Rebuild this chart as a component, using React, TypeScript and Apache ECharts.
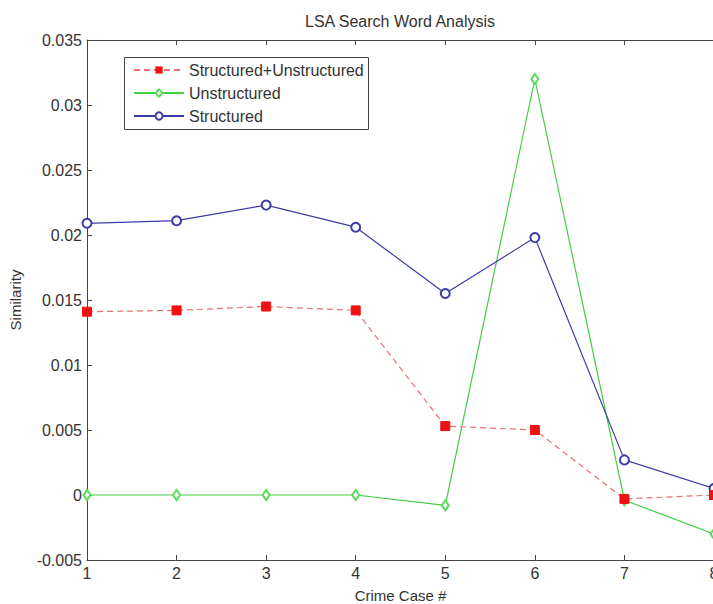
import React, { useEffect, useRef } from "react";
import * as echarts from "echarts";

const cases = [1, 2, 3, 4, 5, 6, 7, 8];
const combined = [0.0141, 0.0142, 0.0145, 0.0142, 0.0053, 0.005, -0.0003, 0.0];
const unstructured = [0.0, 0.0, 0.0, 0.0, -0.0008, 0.032, -0.0004, -0.003];
const structured = [0.0209, 0.0211, 0.0223, 0.0206, 0.0155, 0.0198, 0.0027, 0.0005];
const seriesNames = ["Structured+Unstructured", "Unstructured", "Structured"];

const FONT = "Liberation Sans, Arial, sans-serif";
const TXT = "#333333";

export default function App() {
  const ref = useRef<HTMLDivElement>(null);
  useEffect(() => {
    if (!ref.current) return;
    const chart = echarts.init(ref.current, undefined, { renderer: "svg" });
    const pair = (arr: number[]) => cases.map((c, i) => [c, arr[i]]);
    chart.setOption({
      animation: false,
      backgroundColor: "#ffffff",
      title: {
        text: "LSA Search Word Analysis",
        left: 400,
        top: 13,
        padding: 0,
        textAlign: "center",
        textStyle: { fontFamily: FONT, fontSize: 16, fontWeight: "normal", color: TXT },
      },
      grid: { left: 87, right: -1, top: 40, bottom: 44, outerBoundsMode: "none", containLabel: false },
      legend: {
        orient: "vertical",
        left: 133,
        top: 62,
        z: 20,
        itemWidth: 50,
        itemHeight: 9,
        itemGap: 7,
        padding: 0,
        data: seriesNames,
        textStyle: { fontFamily: FONT, fontSize: 16, lineHeight: 16, color: TXT, padding: [0, 0, 0, 0] },
      },
      graphic: [
        {
          type: "rect",
          shape: { x: 124.5, y: 57.5, width: 244, height: 72 },
          style: { fill: "#ffffff", stroke: "#444444", lineWidth: 1 },
          z: 1,
        },
      ],
      xAxis: [
        {
          type: "value",
          min: 1,
          max: 8,
          interval: 1,
          name: "Crime Case #",
          nameLocation: "middle",
          nameGap: 28,
          nameTextStyle: { fontFamily: FONT, fontSize: 15, color: TXT },
          axisLine: { show: true, onZero: false, lineStyle: { color: "#444", width: 1 } },
          axisTick: { show: true, inside: true, length: 5, lineStyle: { color: "#444" } },
          axisLabel: { fontFamily: FONT, fontSize: 16, color: TXT, margin: 5, showMaxLabel: true },
          splitLine: { show: false },
        },
        {
          type: "value",
          position: "top",
          min: 1,
          max: 8,
          interval: 1,
          axisLine: { show: true, onZero: false, lineStyle: { color: "#444", width: 1 } },
          axisTick: { show: true, inside: true, length: 5, lineStyle: { color: "#444" } },
          axisLabel: { show: false },
          splitLine: { show: false },
        },
      ],
      yAxis: [
        {
          type: "value",
          min: -0.005,
          max: 0.035,
          interval: 0.005,
          name: "Similarity",
          nameLocation: "middle",
          nameGap: 64,
          nameTextStyle: { fontFamily: FONT, fontSize: 15, color: TXT },
          axisLine: { show: true, onZero: false, lineStyle: { color: "#444", width: 1 } },
          axisTick: { show: true, inside: true, length: 5, lineStyle: { color: "#444" } },
          axisLabel: {
            fontFamily: FONT,
            fontSize: 16,
            color: TXT,
            margin: 5,
            formatter: (v: number) => String(parseFloat(v.toFixed(3))),
          },
          splitLine: { show: false },
        },
      ],
      series: [
        {
          name: seriesNames[0],
          type: "line",
          data: pair(combined),
          symbol: "rect",
          symbolSize: 9,
          z: 4,
          lineStyle: { color: "#e87070", width: 1.2, type: [6, 4] },
          itemStyle: { color: "#ee1111", borderColor: "#ee1111" },
        },
        {
          name: seriesNames[1],
          type: "line",
          data: pair(unstructured),
          symbol: "emptyDiamond",
          symbolSize: [7, 10],
          z: 3,
          lineStyle: { color: "#44cc44", width: 1.2 },
          itemStyle: { color: "#55dd55", borderColor: "#55dd55", borderWidth: 1 },
        },
        {
          name: seriesNames[2],
          type: "line",
          data: pair(structured),
          symbol: "emptyCircle",
          symbolSize: 9,
          z: 3,
          lineStyle: { color: "#3c3ca8", width: 1.2 },
          itemStyle: { color: "#3c3ca8", borderColor: "#3c3ca8", borderWidth: 1 },
        },
      ],
    });
    return () => chart.dispose();
  }, []);
  return (
    <div
      ref={ref}
      style={{ position: "fixed", left: 0, top: 0, width: 713, height: 604, background: "#fff" }}
    />
  );
}
